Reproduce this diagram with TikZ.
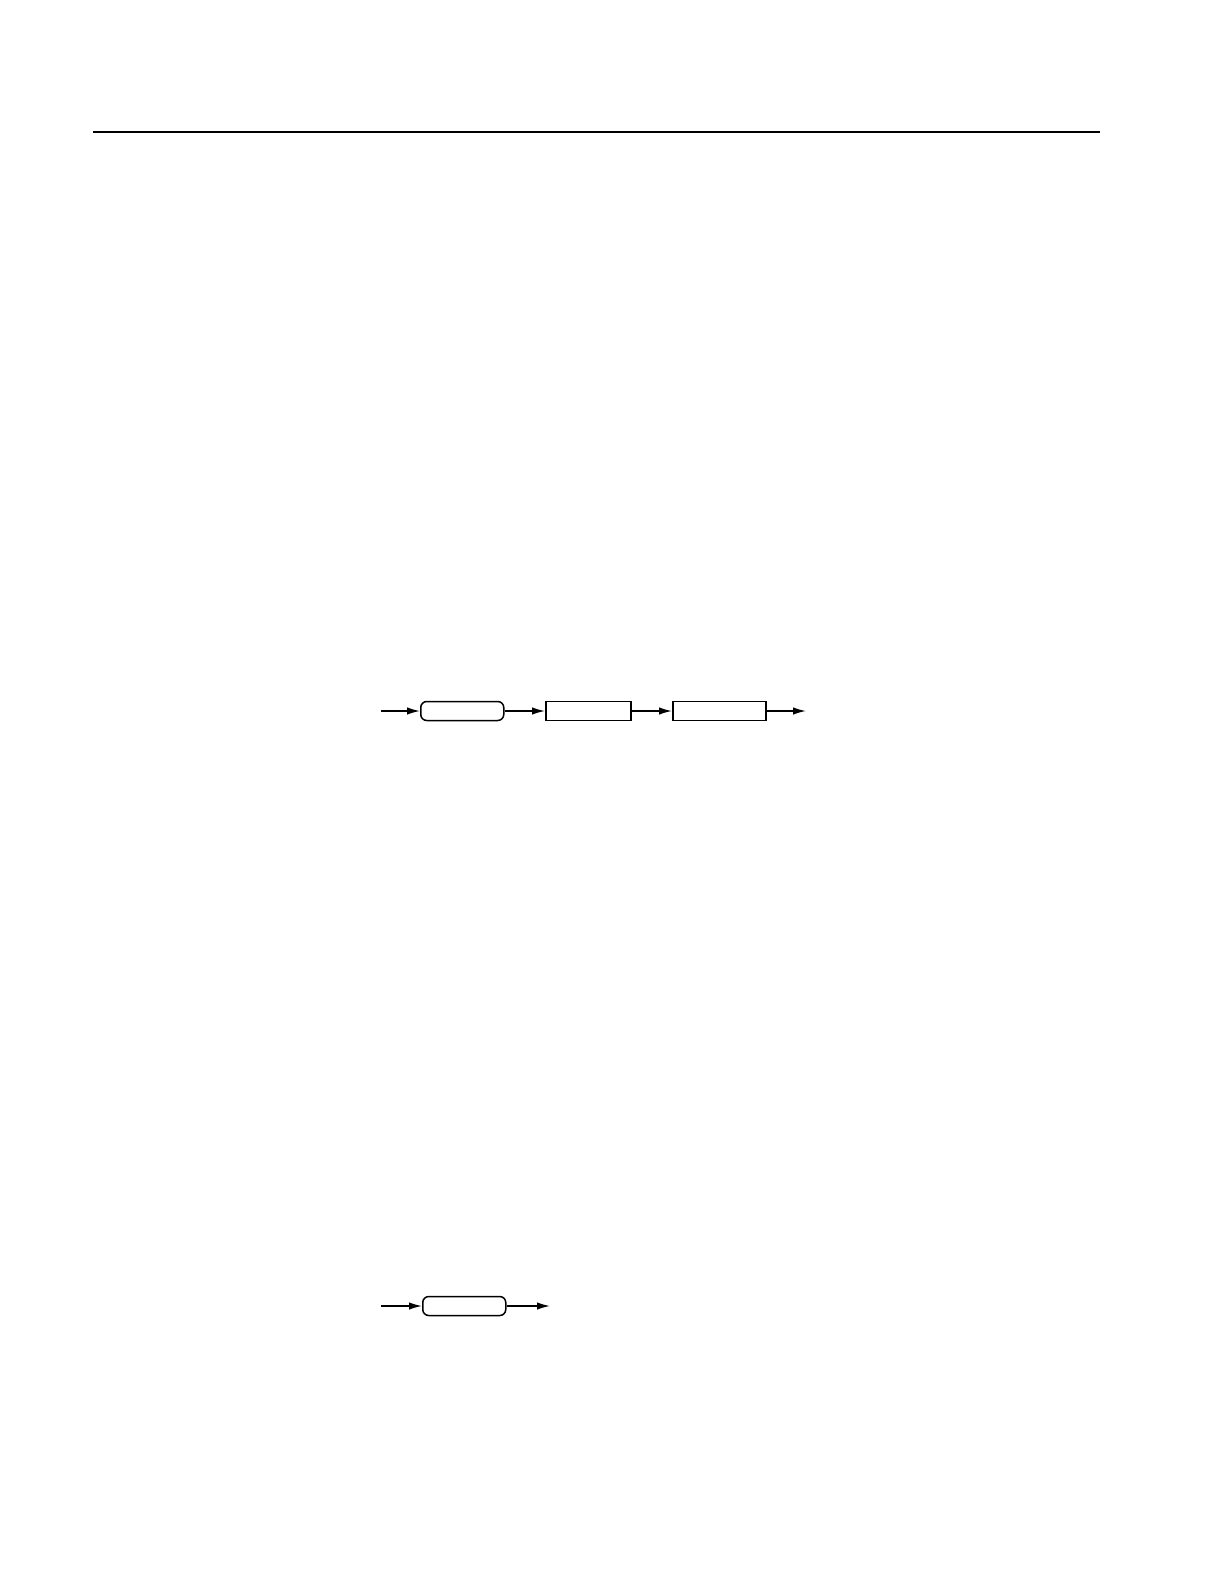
\documentclass[tikz,border=0pt]{standalone}
\usetikzlibrary{arrows.meta}
\begin{document}
\begin{tikzpicture}[x=1pt,y=-1pt,
  blk/.style={draw,line width=1.5pt,minimum height=19pt,inner sep=0pt,anchor=west},
  term/.style={blk,rounded corners=6pt},
  flow/.style={line width=1.5pt,-{Latex[length=13pt,width=7.5pt]}}]
\useasboundingbox (0,0) rectangle (1224,1584);
\draw[line width=1.3pt] (93,132) -- (1100,132);
% row 1
\coordinate (s1) at (381,711);
\node[term,minimum width=83pt] (a1) at (420,711) {};
\node[blk,minimum width=85pt] (b1) at (545,711) {};
\node[blk,minimum width=93pt] (c1) at (672,711) {};
\coordinate (e1) at (806,711);
\draw[flow] (s1) -- (a1.west);
\draw[flow] (a1.east) -- (b1.west);
\draw[flow] (b1.east) -- (c1.west);
\draw[flow] (c1.east) -- (e1);
% row 2
\coordinate (s2) at (381,1306);
\node[term,minimum width=83pt] (a2) at (422,1306) {};
\coordinate (e2) at (550,1306);
\draw[flow] (s2) -- (a2.west);
\draw[flow] (a2.east) -- (e2);
\end{tikzpicture}
\end{document}
